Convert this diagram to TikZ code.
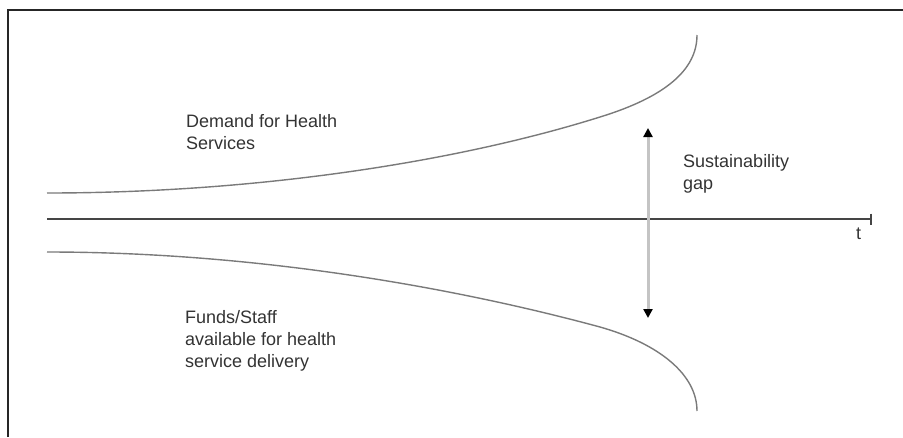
\documentclass[tikz,border=0pt]{standalone}
\usepackage{fontspec}
\setmainfont{Liberation Sans}
\usepackage{xcolor}
\usepackage{tikz}
\usetikzlibrary{arrows.meta}

\definecolor{curvegray}{HTML}{7A7A7A}
\definecolor{shaftgray}{HTML}{C4C4C4}
\definecolor{axisgray}{HTML}{454545}
\definecolor{textgray}{HTML}{333333}

\tikzset{
  label/.style={anchor=base west, inner sep=0, align=left, text=textgray,
    font=\fontsize{18}{22}\selectfont},
  trend/.style={-, line width=1.4, curvegray},
}

\begin{document}
\begin{tikzpicture}[x=1pt, y=-1pt]
    \useasboundingbox (0,0) rectangle (903,437);
    \draw[-,line width=1.4,black!85] (8,437) -- (8,10) -- (903,10);

    \coordinate (origin) at (47,219);
    \coordinate (tend) at (872,219);
    \draw[-{Bar[width=11pt,line width=2pt]},line width=1.3,axisgray] (origin) -- (tend);
    \node[label] (tlabel) at (856,239) {t};

    \draw[trend] (47,193) .. controls (260,193) and (460,161) .. (600,117)
      .. controls (665,97) and (697,70) .. (697,35);
    \draw[trend] (47,252) .. controls (260,252) and (460,289) .. (600,327)
      .. controls (660,344) and (697,375) .. (697,411);

    \coordinate (gaptop) at (648,128);
    \coordinate (gapbot) at (648,318);
    \draw[{Triangle[length=9pt,width=9pt,black]}-{Triangle[length=9pt,width=9pt,black]},
      line width=3,shaftgray] (gaptop) -- (gapbot);

    \node[label] (demand) at (186,149) {Demand for Health\\Services};
    \node[label] (gap) at (683,189) {Sustainability\\gap};
    \node[label] (funds) at (185,367) {Funds/Staff\\available for health\\service delivery};
\end{tikzpicture}
\end{document}
